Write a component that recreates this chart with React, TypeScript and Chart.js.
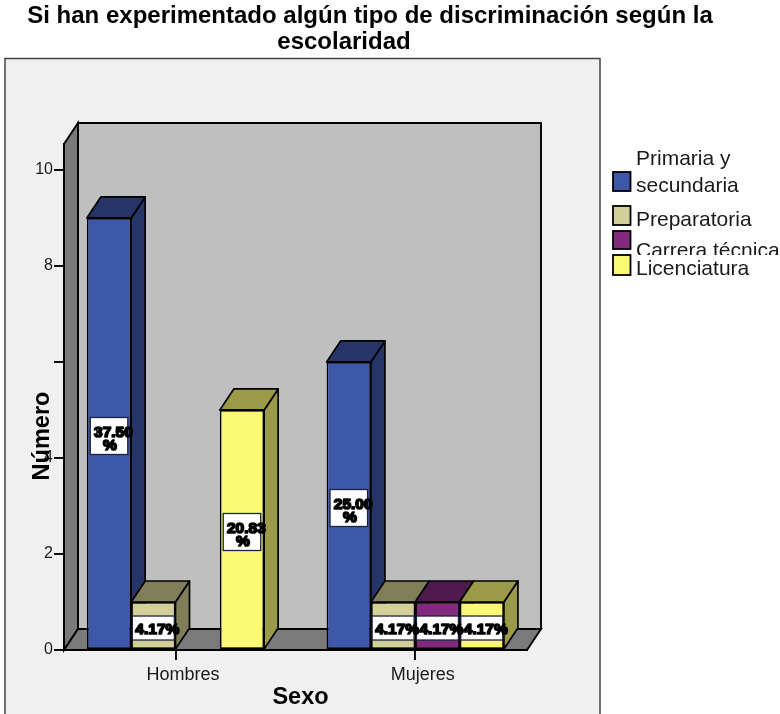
import { useEffect, useRef } from "react";
import { Chart, registerables } from "chart.js";

Chart.register(...registerables);

// Data
const TITLE_LINES = ["Si han experimentado algún tipo de discriminación según la", "escolaridad"];
const CATEGORIES = ["Hombres", "Mujeres"];
const SERIES_NAMES = ["Primaria y secundaria", "Preparatoria", "Carrera técnica", "Licenciatura"];
const PRIMARIA = [9, 6];
const PREPARATORIA = [1, 1];
const CARRERA = [0, 1];
const LICENCIATURA = [5, 1];
const PRIMARIA_PCT = ["37.50%", "25.00%"];
const PREPARATORIA_PCT = ["4.17%", "4.17%"];
const CARRERA_PCT = [null, "4.17%"];
const LICENCIATURA_PCT = ["20.83%", "4.17%"];
const Y_TICKS = [0, 2, 4, 6, 8, 10];
const Y_TICK_LABELS = ["0", "2", "4", "", "8", "10"];
const Y_TITLE = "Número";
const X_TITLE = "Sexo";

// Styling
const FONT = "'Liberation Sans', Arial, sans-serif";
const INK = "#000000";
const FACE = ["#3E58A9", "#D3CF98", "#82287F", "#FBF873"];
const SHADE = ["#263568", "#807E59", "#4E1A4D", "#9B9A48"];
const DEPTH_X = 14;
const DEPTH_Y = -21;
const Y_MAX = 10.54;
const X_MIN = -0.465;
const X_MAX = 1.466;
const STROKE = 1.9;

// Legend rows: swatch box plus one or more text baselines
const LEGEND_ROWS = [
  { top: 172, h: 19, lines: [["Primaria y", 165], ["secundaria", 192]] },
  { top: 206, h: 19, lines: [["Preparatoria", 226]] },
  { top: 231, h: 18, lines: [["Carrera técnica", 257]], clipBottom: 255 },
  { top: 255, h: 20, lines: [["Licenciatura", 275]] },
];

function poly(ctx: CanvasRenderingContext2D, pts: number[][], fill: string) {
  ctx.beginPath();
  pts.forEach(([x, y], i) => (i ? ctx.lineTo(x, y) : ctx.moveTo(x, y)));
  ctx.closePath();
  ctx.fillStyle = fill;
  ctx.fill();
  ctx.stroke();
}

const PCT_BY_SERIES = [PRIMARIA_PCT, PREPARATORIA_PCT, CARRERA_PCT, LICENCIATURA_PCT];

// Panel, walls and floor of the box behind the bars
const box3d = {
  id: "box3d",
  beforeDraw(chart: any) {
    const { ctx, chartArea: a } = chart;
    ctx.save();
    ctx.fillStyle = "#F0F0F0";
    ctx.fillRect(5, 58.5, 595, 720);
    ctx.strokeStyle = "#444444";
    ctx.lineWidth = 1.5;
    ctx.strokeRect(5, 58.5, 595, 720);

    ctx.strokeStyle = INK;
    ctx.lineWidth = STROKE;
    const bx0 = a.left + DEPTH_X;
    const bx1 = a.right + DEPTH_X;
    const by0 = a.top + DEPTH_Y;
    const by1 = a.bottom + DEPTH_Y;
    poly(ctx, [[bx0, by0], [bx1, by0], [bx1, by1], [bx0, by1]], "#BFBFBF");
    poly(ctx, [[a.left, a.top], [bx0, by0], [bx0, by1], [a.left, a.bottom]], "#7A7A7A");
    poly(ctx, [[a.left, a.bottom], [bx0, by1], [bx1, by1], [a.right, a.bottom]], "#7A7A7A");
    ctx.restore();
  },
  // Top and side faces of every bar; the library paints the front faces afterwards
  beforeDatasetsDraw(chart: any) {
    const { ctx } = chart;
    ctx.save();
    ctx.strokeStyle = INK;
    ctx.lineWidth = 1.7;
    ctx.lineJoin = "round";
    for (let cat = 0; cat < CATEGORIES.length; cat++) {
      chart.data.datasets.forEach((ds: any, s: number) => {
        const v = ds.data[cat].y;
        if (!v) return;
        const bar = chart.getDatasetMeta(s).data[cat];
        const x0 = bar.x - bar.width / 2;
        const x1 = bar.x + bar.width / 2;
        const yt = bar.y;
        const yb = bar.base;
        poly(ctx, [[x1, yt], [x1 + DEPTH_X, yt + DEPTH_Y], [x1 + DEPTH_X, yb + DEPTH_Y], [x1, yb]], SHADE[s]);
        poly(ctx, [[x0, yt], [x0 + DEPTH_X, yt + DEPTH_Y], [x1 + DEPTH_X, yt + DEPTH_Y], [x1, yt]], SHADE[s]);
      });
    }
    ctx.restore();
  },
};

// Percentage labels in white boxes at the middle of each bar
const pctLabels = {
  id: "pctLabels",
  afterDatasetsDraw(chart: any) {
    const { ctx } = chart;
    ctx.save();
    const items: any[] = [];
    chart.data.datasets.forEach((_: any, s: number) => {
      chart.getDatasetMeta(s).data.forEach((bar: any, cat: number) => {
        const text = PCT_BY_SERIES[s][cat];
        if (!text) return;
        const cy = (bar.y + bar.base) / 2 + 2.5;
        const wrapped = text.length > 5;
        const w = wrapped ? 37.5 : 42;
        const h = wrapped ? 37 : 24;
        ctx.fillStyle = "#FFFFFF";
        ctx.strokeStyle = "#1A2340";
        ctx.lineWidth = 1.3;
        ctx.fillRect(bar.x - w / 2, cy - h / 2, w, h);
        ctx.strokeRect(bar.x - w / 2, cy - h / 2, w, h);
        items.push({ text, x: bar.x, cy, wrapped });
      });
    });
    ctx.font = `bold 15.5px ${FONT}`;
    ctx.textAlign = "center";
    ctx.textBaseline = "alphabetic";
    ctx.fillStyle = "#000000";
    ctx.strokeStyle = "#000000";
    ctx.lineWidth = 1.7;
    ctx.lineJoin = "round";
    const put = (t: string, x: number, y: number) => {
      ctx.strokeText(t, x, y);
      ctx.fillText(t, x, y);
    };
    for (const it of items) {
      if (it.wrapped) {
        put(it.text.slice(0, -1), it.x + 4.4, it.cy + 1);
        put("%", it.x + 1, it.cy + 13.6);
      } else {
        put(it.text, it.x + 4, it.cy + 6);
      }
    }
    ctx.restore();
  },
};

// Title, axis titles and legend
const chartTexts = {
  id: "chartTexts",
  afterDraw(chart: any) {
    const { ctx } = chart;
    ctx.save();
    ctx.textBaseline = "alphabetic";
    ctx.fillStyle = "#000000";
    ctx.textAlign = "center";
    ctx.font = `bold 24px ${FONT}`;
    ctx.fillText(TITLE_LINES[0], 370, 23);
    ctx.fillText(TITLE_LINES[1], 344, 49);

    ctx.font = `bold 23.5px ${FONT}`;
    ctx.fillText(X_TITLE, 300.5, 704);
    ctx.save();
    ctx.translate(49, 436);
    ctx.rotate(-Math.PI / 2);
    ctx.fillText(Y_TITLE, 0, 0);
    ctx.restore();

    ctx.textAlign = "left";
    ctx.font = `21px ${FONT}`;
    LEGEND_ROWS.forEach((row: any, s) => {
      ctx.fillStyle = FACE[s];
      ctx.strokeStyle = INK;
      ctx.lineWidth = 1.8;
      ctx.fillRect(613, row.top, 17.5, row.h);
      ctx.strokeRect(613, row.top, 17.5, row.h);
      ctx.fillStyle = "#1A1A1A";
      ctx.save();
      if (row.clipBottom) {
        ctx.beginPath();
        ctx.rect(634, row.top - 20, 146, row.clipBottom - row.top + 20);
        ctx.clip();
      }
      row.lines.forEach(([t, y]: [string, number]) => ctx.fillText(t, 636, y));
      ctx.restore();
    });
    ctx.restore();
  },
};

export default function App() {
  const ref = useRef<HTMLCanvasElement>(null);

  useEffect(() => {
    const series = [PRIMARIA, PREPARATORIA, CARRERA, LICENCIATURA];
    const chart = new Chart(ref.current!, {
      type: "bar",
      data: {
        datasets: series.map((values, s) => ({
          label: SERIES_NAMES[s],
          data: values.map((y, x) => ({ x, y })),
          backgroundColor: FACE[s],
          borderColor: INK,
          borderWidth: 1.7,
          borderSkipped: false,
          barPercentage: 1,
          categoryPercentage: 0.7395,
        })),
      },
      options: {
        responsive: false,
        animation: false,
        events: [],
        layout: { padding: { top: 144, left: 0, right: 253, bottom: 0 } },
        plugins: { legend: { display: false }, tooltip: { enabled: false }, title: { display: false } },
        scales: {
          x: {
            type: "linear",
            min: X_MIN,
            max: X_MAX,
            offset: false,
            bounds: "data",
            afterBuildTicks: (scale: any) => {
              scale.ticks = CATEGORIES.map((_, i) => ({ value: i }));
            },
            afterFit: (scale: any) => {
              scale.height = 64;
            },
            grid: { offset: false, drawOnChartArea: false, drawTicks: true, tickLength: 10, color: INK, lineWidth: STROKE },
            border: { display: true, color: INK, width: 2 },
            ticks: {
              autoSkip: false,
              maxRotation: 0,
              padding: 4,
              labelOffset: 7.5,
              color: "#1A1A1A",
              font: { family: FONT, size: 18 },
              callback: (v: any) => CATEGORIES[v] ?? "",
            },
          },
          y: {
            type: "linear",
            min: 0,
            max: Y_MAX,
            bounds: "data",
            afterBuildTicks: (scale: any) => {
              scale.ticks = Y_TICKS.map((value) => ({ value }));
            },
            afterFit: (scale: any) => {
              scale.width = 64;
            },
            grid: { drawOnChartArea: false, drawTicks: true, tickLength: 10, color: INK, lineWidth: STROKE },
            border: { display: true, color: INK, width: 2 },
            ticks: {
              autoSkip: false,
              padding: 1,
              color: "#1A1A1A",
              font: { family: FONT, size: 16 },
              callback: (v: any) => Y_TICK_LABELS[Y_TICKS.indexOf(v)] ?? "",
            },
          },
        },
      },
      plugins: [box3d, pctLabels, chartTexts],
    } as any);
    return () => chart.destroy();
  }, []);

  return (
    <div style={{ position: "absolute", left: 0, top: 0, width: 780, height: 714, background: "#FFFFFF" }}>
      <canvas ref={ref} width={780} height={714} style={{ display: "block" }} />
    </div>
  );
}
